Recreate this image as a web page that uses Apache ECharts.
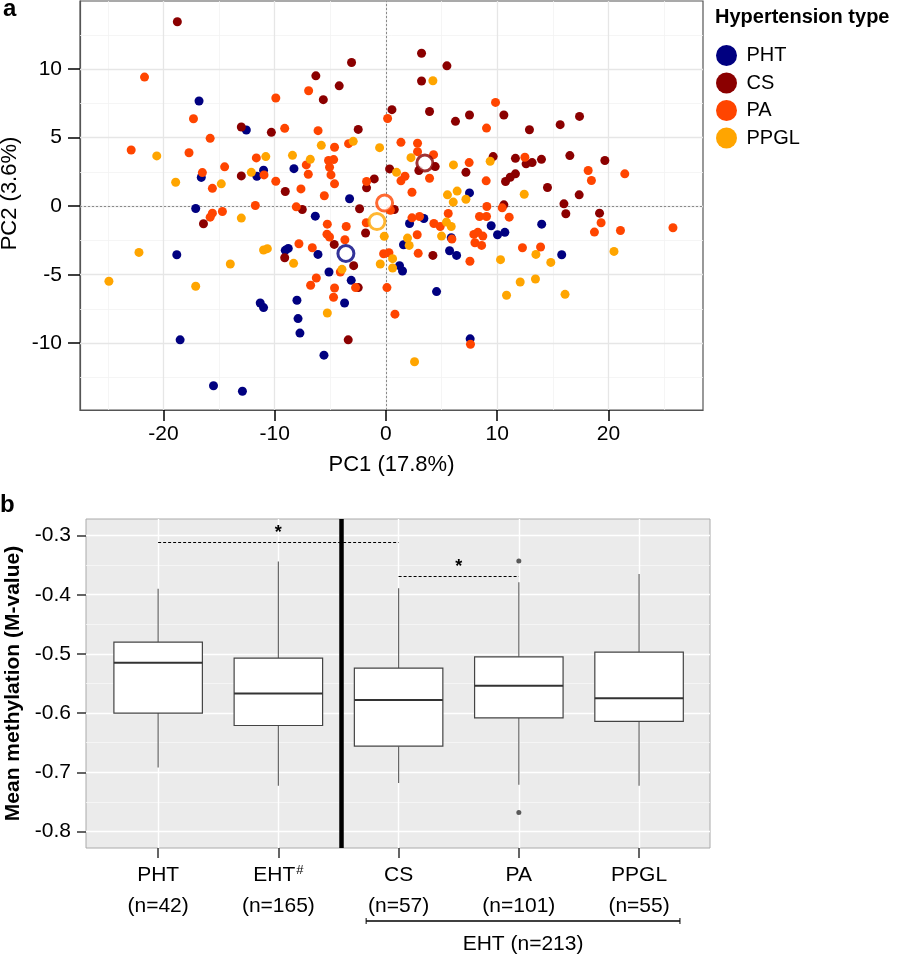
<!DOCTYPE html>
<html><head><meta charset="utf-8">
<script src="https://cdn.jsdelivr.net/npm/echarts@6/dist/echarts.min.js"></script>
<style>html,body{margin:0;padding:0;background:#fff}#c{width:898px;height:955px}</style>
</head><body><div id="c"></div>
<script>
const FONT = '"Liberation Sans", Arial, Helvetica, sans-serif';

// ---------- Panel a: PCA scores ----------
const groupNames = ['PHT', 'CS', 'PA', 'PPGL'];
const phtScores = [[-16.8,7.67],[-16.6,2.1],[-12.55,5.56],[-11.0,2.62],[-11.6,2.18],[-8.27,2.74],[-3.27,0.54],[-17.1,-0.17],[-6.35,-0.73],[-18.8,-3.54],[-18.5,-9.75],[-15.5,-13.1],[-12.9,-13.5],[-11.3,-7.06],[-11.0,-7.4],[-9.05,-3.22],[-8.78,-3.08],[-6.11,-3.52],[-8.0,-6.86],[-7.9,-8.2],[-7.73,-9.26],[-5.57,-10.87],[-5.12,-4.8],[-3.12,-5.41],[-3.72,-7.06],[7.51,0.97],[14.0,-1.31],[15.8,-3.54],[7.57,-9.68],[4.55,-6.23],[9.46,-1.43],[10.03,-2.08],[10.69,-1.91],[5.87,-2.3],[5.72,-3.25],[6.35,-3.59],[1.58,-2.81],[2.12,-1.26],[3.41,-0.9],[1.22,-4.34],[1.49,-4.73]];
const csScores = [[-18.75,13.46],[-13.0,5.78],[-10.3,5.39],[-13.0,2.21],[-9.05,1.07],[-6.3,9.51],[-5.63,7.77],[-4.2,8.78],[-3.09,10.48],[-2.49,5.6],[-1.05,1.99],[-1.74,1.34],[0.54,7.04],[0.33,2.72],[3.2,11.16],[5.48,10.24],[3.2,9.13],[3.92,6.91],[6.25,6.19],[7.51,6.65],[10.6,6.65],[12.9,5.58],[15.66,5.95],[17.4,6.55],[4.43,2.89],[2.96,2.6],[7.19,2.47],[9.64,3.62],[11.64,3.49],[12.6,3.09],[13.14,3.18],[13.98,3.42],[16.53,3.69],[19.68,3.33],[11.64,2.36],[11.17,2.11],[10.75,1.8],[14.52,1.36],[17.37,0.83],[10.6,0.1],[16.0,0.17],[16.17,-0.55],[19.2,-0.51],[4.22,-3.59],[0.75,-0.24],[-16.4,-1.28],[-7.52,-0.24],[-2.37,-0.19],[-9.1,-3.76],[-3.39,-9.75],[-4.65,-2.79],[-2.9,-4.34],[-2.49,-5.94],[-1.83,-1.96]];
const paScores = [[-21.7,9.42],[-17.3,6.38],[-15.8,4.95],[-22.9,4.1],[-17.7,3.9],[-16.5,2.45],[-15.6,1.3],[-14.5,2.87],[-9.9,7.89],[-9.1,5.68],[-11.65,3.52],[-10.96,2.28],[-9.9,1.82],[-7.64,1.26],[-7.16,3.01],[-6.98,2.33],[-6.95,8.42],[-6.1,5.51],[-4.62,4.3],[-3.36,4.56],[-5.16,3.33],[-4.7,3.4],[-5.07,2.84],[-4.94,2.28],[-4.62,1.63],[-5.54,0.76],[-8.06,-0.05],[-1.74,1.8],[0.15,6.4],[-11.74,0.05],[9.85,7.57],[9.04,5.7],[1.35,4.66],[2.84,4.59],[2.84,3.98],[4.28,3.76],[3.92,2.04],[7.48,3.18],[9.01,1.85],[12.49,3.57],[18.18,2.6],[18.47,1.87],[21.47,2.36],[2.34,1.02],[1.71,2.18],[1.35,1.85],[9.07,-0.02],[10.45,-0.12],[19.34,-1.21],[18.74,-1.89],[21.08,-1.77],[25.8,-1.57],[12.27,-3.03],[13.9,-2.98],[7.6,-10.07],[0.81,-7.88],[11.08,-0.8],[8.41,-0.75],[9.04,-0.75],[5.6,-0.53],[7.9,-2.06],[8.26,-1.91],[8.71,-2.18],[8.0,-2.67],[8.6,-2.86],[7.55,-4.02],[4.88,-1.48],[4.31,-1.26],[5.93,-2.4],[2.9,-3.44],[2.81,-2.08],[2.34,-0.85],[3.02,-0.75],[0.27,-3.4],[-0.21,-3.47],[-15.6,-0.51],[-15.8,-0.8],[-14.7,-0.39],[-7.82,-2.74],[-6.62,-3.03],[-5.27,-1.31],[-3.57,-1.48],[-5.3,-2.04],[-5.07,-2.25],[-3.69,-2.45],[-4.1,-4.8],[-6.26,-5.24],[-6.77,-5.77],[-4.62,-5.97],[-4.71,-6.64],[-2.73,-5.94],[-1.77,-1.21],[0.09,-5.94],[0.4,-0.3]];
const ppglScores = [[-20.6,3.67],[-18.9,1.75],[-14.8,1.63],[-10.8,3.62],[-12.1,2.47],[-8.4,3.71],[-6.8,3.42],[-5.81,4.44],[-2.94,4.73],[-0.57,4.27],[4.22,9.15],[2.25,3.54],[6.07,3.01],[9.37,3.28],[12.43,0.87],[0.95,2.47],[5.53,0.83],[6.4,1.1],[7.19,0.51],[6.05,0.3],[20.5,-3.3],[13.48,-3.52],[14.82,-4.1],[10.3,-3.9],[12.07,-5.53],[13.44,-5.31],[10.84,-6.5],[16.1,-6.43],[2.57,-11.35],[5.44,-1.16],[5.87,-1.48],[5.0,-2.18],[1.94,-2.33],[2.09,-2.86],[0.6,-4.51],[0.6,-3.83],[-22.2,-3.37],[-24.9,-5.48],[-17.1,-5.84],[-13.99,-4.22],[-11.0,-3.2],[-10.66,-3.1],[-13.0,-0.87],[-8.3,-4.17],[-5.27,-7.79],[-3.95,-4.61],[-0.15,-2.2],[-0.51,-4.22]];
const centroidPC1 = [-3.6, 3.5, -0.12, -0.81];
const centroidPC2 = [-3.45, 3.15, 0.23, -1.12];
const pcXTicks = [-20, -10, 0, 10, 20];
const pcYTicks = [-10, -5, 0, 5, 10];
const pcXMinor = [-25, -15, -5, 5, 15, 25];
const pcYMinor = [-12.5, -7.5, -2.5, 2.5, 7.5, 12.5];

// ---------- Panel b: mean methylation boxplots ----------
const boxCategories = ['PHT', 'EHT', 'CS', 'PA', 'PPGL'];
const boxCounts = [42, 165, 57, 101, 55];
const boxLow    = [-0.692, -0.723, -0.718, -0.721, -0.723];
const boxQ1     = [-0.600, -0.621, -0.656, -0.608, -0.614];
const boxMedian = [-0.515, -0.567, -0.578, -0.554, -0.575];
const boxQ3     = [-0.480, -0.507, -0.524, -0.505, -0.497];
const boxHigh   = [-0.390, -0.344, -0.389, -0.379, -0.365];
const outlierCategory = ['PA', 'PA'];
const outlierValues = [-0.343, -0.768];
const mYTicks = [-0.8, -0.7, -0.6, -0.5, -0.4, -0.3];
const mYMinor = [-0.75, -0.65, -0.55, -0.45, -0.35];
const sigFrom = ['PHT', 'CS'];
const sigTo = ['CS', 'PA'];
const sigLevel = [-0.311, -0.368];
const ehtGroupLabel = 'EHT (n=213)';
const ehtGroupSpan = [2.73, 5.34];
const groupDivider = 2.52;

const colors = {PHT: '#000080', CS: '#8B0000', PA: '#FF4500', PPGL: '#FFA500'};
const scoreSets = [phtScores, csScores, paScores, ppglScores];
const pos = c => boxCategories.indexOf(c) + 1;

const noLabel = {show: false};
const mlBase = {silent: true, symbol: ['none', 'none'], animation: false, label: noLabel, emphasis: {disabled: true}};
const ln = (color, width, type) => ({color, width, type: type || 'solid'});

const topGridLines = [
  ...pcXMinor.map(v => ({xAxis: v, lineStyle: ln('#f3f3f3', 0.8)})),
  ...pcYMinor.map(v => ({yAxis: v, lineStyle: ln('#f3f3f3', 0.8)})),
  ...pcXTicks.map(v => ({xAxis: v, lineStyle: ln('#e6e6e6', 1.3)})),
  ...pcYTicks.map(v => ({yAxis: v, lineStyle: ln('#e6e6e6', 1.3)})),
  {xAxis: 0, lineStyle: ln('#8a8a8a', 1, [2, 2])},
  {yAxis: 0, lineStyle: ln('#8a8a8a', 1, [2, 2])}
];
const botGridLines = [
  ...mYMinor.map(v => ({yAxis: v, lineStyle: ln('#f7f7f7', 0.8)})),
  ...mYTicks.map(v => ({yAxis: v, lineStyle: ln('#ffffff', 1.4)})),
  ...boxCategories.map(c => ({xAxis: pos(c), lineStyle: ln('#ffffff', 1.4)}))
];

const axisTxt = {color: '#000', fontSize: 21, fontFamily: FONT};
const txt = (text, size, weight) => ({text, fontSize: size, fontWeight: weight || 'normal', fontFamily: FONT, fill: '#000'});

const option = {
  animation: false,
  backgroundColor: '#fff',
  textStyle: {fontFamily: FONT},
  title: {text: 'Hypertension type', left: 715, top: 7, padding: 0,
    textStyle: {fontSize: 20, fontWeight: 'bold', color: '#000', fontFamily: FONT}},
  legend: {
    data: groupNames, orient: 'vertical', left: 716, top: 45, padding: 0,
    itemWidth: 30, itemHeight: 21, itemGap: 6.5, icon: 'circle', selectedMode: false,
    textStyle: {fontSize: 20, color: '#000', fontFamily: FONT}
  },
  grid: [
    {left: 80, top: 1, width: 623, height: 409, show: true, backgroundColor: '#fff',
      borderColor: '#555', borderWidth: 1.2, outerBoundsMode: 'none', containLabel: false},
    {left: 86, top: 519, width: 624, height: 329, show: true, backgroundColor: '#EBEBEB',
      borderColor: '#aaa', borderWidth: 1, outerBoundsMode: 'none', containLabel: false}
  ],
  xAxis: [
    {gridIndex: 0, type: 'value', min: -27.5, max: 28.5,
      name: 'PC1 (17.8%)', nameLocation: 'middle', nameGap: 44,
      nameTextStyle: {fontSize: 22, color: '#000', fontFamily: FONT},
      axisLine: {show: true, onZero: false, lineStyle: {color: '#555', width: 1.2}},
      axisTick: {show: true, length: 11, customValues: pcXTicks, lineStyle: {color: '#000', width: 1.5}},
      axisLabel: Object.assign({margin: 14, customValues: pcXTicks, formatter: v => String(v)}, axisTxt),
      splitLine: {show: false}},
    {gridIndex: 1, type: 'value', min: 0.4, max: 5.59,
      axisLine: {show: false},
      axisTick: {show: true, length: 10, customValues: boxCategories.map(pos), lineStyle: {color: '#333', width: 1.5}},
      axisLabel: {margin: 12, customValues: boxCategories.map(pos),
        formatter: v => {
          const i = Math.round(v) - 1;
          const sup = boxCategories[i] === 'EHT' ? '{sup|#}' : '';
          return '{n|' + boxCategories[i] + '}' + sup + '\n{n|(n=' + boxCounts[i] + ')}';
        },
        rich: {
          n: {fontSize: 21, lineHeight: 31, color: '#000', fontFamily: FONT},
          sup: {fontSize: 13, lineHeight: 14, verticalAlign: 'top', color: '#000', fontFamily: FONT, padding: [4, 0, 0, 1]}
        }},
      splitLine: {show: false}}
  ],
  yAxis: [
    {gridIndex: 0, type: 'value', min: -14.87, max: 14.97,
      name: 'PC2 (3.6%)', nameLocation: 'middle', nameGap: 47,
      nameTextStyle: {fontSize: 22, color: '#000', fontFamily: FONT, padding: [0, 0, 0, 24]},
      axisLine: {show: true, onZero: false, lineStyle: {color: '#555', width: 1.2}},
      axisTick: {show: true, length: 12, customValues: pcYTicks, lineStyle: {color: '#000', width: 1.5}},
      axisLabel: Object.assign({margin: 18, customValues: pcYTicks, formatter: v => String(v)}, axisTxt),
      splitLine: {show: false}},
    {gridIndex: 1, type: 'value', min: -0.828, max: -0.272,
      name: 'Mean methylation (M-value)', nameLocation: 'middle', nameGap: 58,
      nameTextStyle: {fontSize: 21, fontWeight: 'bold', color: '#000', fontFamily: FONT},
      axisLine: {show: false},
      axisTick: {show: true, length: 9, customValues: mYTicks, lineStyle: {color: '#333', width: 1.5}},
      axisLabel: Object.assign({margin: 15, customValues: mYTicks, formatter: v => v.toFixed(1)}, axisTxt),
      splitLine: {show: false}}
  ],
  series: [
    {type: 'scatter', name: '_gridA', xAxisIndex: 0, yAxisIndex: 0, data: [], z: 1, silent: true,
      markLine: Object.assign({data: topGridLines, z: 1}, mlBase)},
    ...groupNames.map((g, i) => ({
      type: 'scatter', name: g, xAxisIndex: 0, yAxisIndex: 0, z: 2,
      data: scoreSets[i], symbolSize: 9,
      itemStyle: {color: colors[g], opacity: 1}
    })),
    {type: 'scatter', name: '_centroids', xAxisIndex: 0, yAxisIndex: 0, z: 4,
      data: groupNames.map((g, i) => ({value: [centroidPC1[i], centroidPC2[i]],
        itemStyle: {color: '#fff', borderColor: colors[g], borderWidth: 3}})),
      symbolSize: 16},
    {type: 'scatter', name: '_gridB', xAxisIndex: 1, yAxisIndex: 1, data: [], z: 1, silent: true,
      markLine: Object.assign({data: botGridLines, z: 1}, mlBase)},
    {type: 'custom', name: '_boxes', xAxisIndex: 1, yAxisIndex: 1, z: 2,
      data: boxCategories.map((c, i) => [pos(c), boxLow[i], boxQ1[i], boxMedian[i], boxQ3[i], boxHigh[i]]),
      encode: {x: 0, y: [1, 2, 3, 4, 5]},
      renderItem: (params, api) => {
        const x = api.value(0), half = 0.368;
        const lo = api.coord([x, api.value(1)]);
        const q1 = api.coord([x, api.value(2)]);
        const md = api.coord([x, api.value(3)]);
        const q3 = api.coord([x, api.value(4)]);
        const hi = api.coord([x, api.value(5)]);
        const L = api.coord([x - half, api.value(3)])[0];
        const R = api.coord([x + half, api.value(3)])[0];
        return {type: 'group', children: [
          {type: 'line', shape: {x1: hi[0], y1: hi[1], x2: q3[0], y2: q3[1]}, style: {stroke: '#666', lineWidth: 1.2}},
          {type: 'line', shape: {x1: q1[0], y1: q1[1], x2: lo[0], y2: lo[1]}, style: {stroke: '#666', lineWidth: 1.2}},
          {type: 'rect', shape: {x: L, y: q3[1], width: R - L, height: q1[1] - q3[1]}, style: {fill: '#fff', stroke: '#444', lineWidth: 1.2}},
          {type: 'line', shape: {x1: L, y1: md[1], x2: R, y2: md[1]}, style: {stroke: '#333', lineWidth: 2}}
        ]};
      },
      markLine: Object.assign({}, mlBase, {
        z: 5,
        data: [
          {xAxis: groupDivider, lineStyle: ln('#000', 4.5)},
          ...sigLevel.map((lv, i) => [
            {coord: [pos(sigFrom[i]), lv], lineStyle: ln('#000', 1, [3, 2]),
              label: {show: true, position: 'middle', formatter: '*', distance: 0,
                fontSize: 18, fontWeight: 'bold', color: '#000', fontFamily: FONT}},
            {coord: [pos(sigTo[i]), lv]}
          ])
        ]})
    },
    {type: 'scatter', name: '_outliers', xAxisIndex: 1, yAxisIndex: 1, z: 3,
      data: outlierValues.map((v, i) => [pos(outlierCategory[i]), v]),
      symbolSize: 5, itemStyle: {color: '#333'}}
  ]
};

const chart = echarts.init(document.getElementById('c'), null, {renderer: 'canvas'});
chart.setOption(option);

const p1 = chart.convertToPixel({gridIndex: 1}, [ehtGroupSpan[0], -0.8]);
const p2 = chart.convertToPixel({gridIndex: 1}, [ehtGroupSpan[1], -0.8]);
const by = 921;
chart.setOption({graphic: [
  {type: 'text', x: 3, y: 9, style: Object.assign(txt('a', 24, 'bold'), {align: 'left', verticalAlign: 'middle'})},
  {type: 'text', x: 0, y: 505, style: Object.assign(txt('b', 24, 'bold'), {align: 'left', verticalAlign: 'middle'})},
  {type: 'line', shape: {x1: p1[0], y1: by, x2: p2[0], y2: by}, style: {stroke: '#000', lineWidth: 1.6}},
  {type: 'line', shape: {x1: p1[0], y1: by - 3, x2: p1[0], y2: by + 3}, style: {stroke: '#000', lineWidth: 1}},
  {type: 'line', shape: {x1: p2[0], y1: by - 3, x2: p2[0], y2: by + 3}, style: {stroke: '#000', lineWidth: 1}},
  {type: 'text', x: (p1[0] + p2[0]) / 2, y: 944,
    style: Object.assign(txt(ehtGroupLabel, 21), {align: 'center', verticalAlign: 'middle'})}
]});
</script>
</body></html>
